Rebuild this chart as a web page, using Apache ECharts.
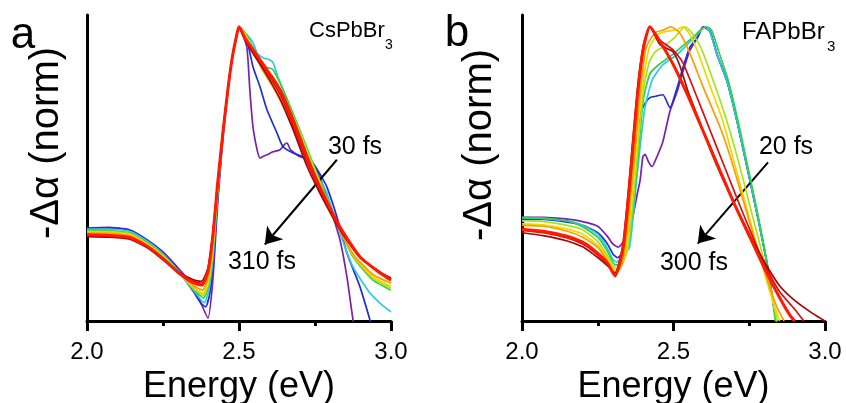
<!DOCTYPE html>
<html>
<head>
<meta charset="utf-8">
<script src="https://cdn.jsdelivr.net/npm/echarts@6/dist/echarts.min.js"></script>
<style>
  html, body { margin: 0; padding: 0; background: #fff; }
  #chart { width: 846px; height: 403px; }
</style>
</head>
<body>
<div id="chart"></div>
<script>
// x ticks (eV)
const X_TICKS = [2.0, 2.5, 3.0];

// series colours, early -> late delay
const TRACE_COLORS = ["#7a1fb0", "#1f2fd0", "#2ec8e6", "#2fd04a", "#a8e31a", "#f2d600", "#ff9a00", "#d81010", "#a00808", "#ff1a00"];

// panel a: CsPbBr3, [energy eV, -dalpha norm]
const csViolet = [[2.0,0.316],[2.07,0.318],[2.14,0.31],[2.2,0.275],[2.25,0.235],[2.3,0.18],[2.35,0.12],[2.375,0.06],[2.398,0.01],[2.414,0.14],[2.43,0.40],[2.447,0.62],[2.465,0.80],[2.477,0.89],[2.49,0.96],[2.5,1.0],[2.51,0.98],[2.526,0.93],[2.536,0.78],[2.546,0.66],[2.56,0.58],[2.569,0.554],[2.58,0.56],[2.592,0.565],[2.612,0.575],[2.635,0.582],[2.65,0.6],[2.658,0.605],[2.668,0.585],[2.678,0.575],[2.701,0.558],[2.734,0.548],[2.766,0.49],[2.799,0.388],[2.832,0.276],[2.855,0.15],[2.875,0.003],[2.885,-0.06]];
const csBlue = [[2.0,0.316],[2.07,0.316],[2.14,0.308],[2.2,0.272],[2.25,0.232],[2.3,0.172],[2.35,0.10],[2.375,0.06],[2.39,0.048],[2.405,0.10],[2.414,0.19],[2.43,0.42],[2.447,0.63],[2.465,0.80],[2.477,0.89],[2.49,0.96],[2.5,1.0],[2.51,0.99],[2.526,0.956],[2.546,0.864],[2.569,0.796],[2.592,0.718],[2.625,0.639],[2.645,0.592],[2.678,0.571],[2.711,0.558],[2.743,0.537],[2.766,0.50],[2.789,0.456],[2.822,0.354],[2.855,0.231],[2.898,0.116],[2.931,0.003],[2.945,-0.05]];
const csCyan = [[2.0,0.312],[2.07,0.312],[2.14,0.305],[2.2,0.27],[2.25,0.228],[2.3,0.17],[2.35,0.105],[2.386,0.062],[2.4,0.10],[2.414,0.21],[2.43,0.43],[2.447,0.635],[2.465,0.80],[2.477,0.89],[2.49,0.96],[2.5,1.0],[2.52,0.98],[2.546,0.946],[2.56,0.91],[2.579,0.895],[2.6,0.888],[2.612,0.878],[2.628,0.83],[2.658,0.752],[2.701,0.616],[2.743,0.524],[2.766,0.48],[2.789,0.435],[2.832,0.299],[2.875,0.184],[2.931,0.095],[2.97,0.055],[3.0,0.031]];
const csGreen = [[2.0,0.308],[2.07,0.307],[2.14,0.3],[2.2,0.265],[2.25,0.225],[2.3,0.168],[2.35,0.11],[2.384,0.078],[2.4,0.12],[2.414,0.23],[2.43,0.44],[2.447,0.64],[2.465,0.80],[2.477,0.89],[2.49,0.96],[2.5,1.0],[2.52,0.98],[2.546,0.93],[2.579,0.864],[2.6,0.86],[2.612,0.854],[2.645,0.786],[2.691,0.673],[2.743,0.537],[2.776,0.45],[2.809,0.367],[2.875,0.218],[2.941,0.139],[3.0,0.105]];
const csYellowGreen = [[2.0,0.305],[2.07,0.304],[2.14,0.297],[2.2,0.262],[2.25,0.222],[2.3,0.167],[2.35,0.112],[2.383,0.088],[2.4,0.13],[2.414,0.24],[2.43,0.45],[2.447,0.64],[2.465,0.80],[2.477,0.89],[2.49,0.96],[2.5,1.0],[2.52,0.975],[2.546,0.925],[2.579,0.86],[2.612,0.83],[2.645,0.77],[2.691,0.665],[2.743,0.53],[2.809,0.365],[2.875,0.222],[2.941,0.145],[3.0,0.112]];
const csYellow = [[2.0,0.302],[2.07,0.301],[2.14,0.294],[2.2,0.26],[2.25,0.22],[2.3,0.166],[2.35,0.115],[2.382,0.095],[2.4,0.14],[2.414,0.25],[2.43,0.46],[2.447,0.64],[2.465,0.80],[2.477,0.89],[2.49,0.96],[2.5,1.0],[2.52,0.975],[2.546,0.92],[2.579,0.855],[2.612,0.81],[2.645,0.75],[2.691,0.645],[2.743,0.52],[2.809,0.36],[2.875,0.225],[2.941,0.15],[3.0,0.118]];
const csOrange = [[2.0,0.299],[2.07,0.298],[2.14,0.29],[2.2,0.257],[2.25,0.217],[2.3,0.165],[2.35,0.12],[2.38,0.105],[2.4,0.155],[2.414,0.27],[2.43,0.47],[2.447,0.64],[2.465,0.80],[2.477,0.89],[2.49,0.96],[2.5,1.0],[2.52,0.97],[2.546,0.92],[2.579,0.85],[2.612,0.795],[2.645,0.73],[2.691,0.625],[2.743,0.505],[2.809,0.355],[2.875,0.228],[2.941,0.158],[3.0,0.128]];
const csCrimson = [[2.0,0.29],[2.07,0.288],[2.14,0.281],[2.2,0.25],[2.25,0.21],[2.3,0.166],[2.35,0.135],[2.377,0.128],[2.398,0.175],[2.414,0.295],[2.43,0.47],[2.447,0.64],[2.465,0.80],[2.477,0.89],[2.49,0.96],[2.5,1.0],[2.52,0.96],[2.546,0.915],[2.592,0.845],[2.635,0.77],[2.678,0.665],[2.724,0.54],[2.766,0.445],[2.832,0.315],[2.898,0.217],[2.964,0.165],[3.0,0.142]];
const csDarkRed = [[2.0,0.287],[2.07,0.285],[2.14,0.278],[2.2,0.248],[2.25,0.208],[2.3,0.167],[2.35,0.14],[2.376,0.135],[2.398,0.18],[2.414,0.30],[2.43,0.47],[2.447,0.64],[2.465,0.80],[2.477,0.89],[2.49,0.96],[2.5,1.0],[2.52,0.955],[2.546,0.91],[2.592,0.835],[2.635,0.755],[2.678,0.65],[2.724,0.525],[2.766,0.435],[2.832,0.31],[2.898,0.215],[2.964,0.167],[3.0,0.146]];
const csRed = [[2.0,0.293],[2.07,0.291],[2.14,0.284],[2.2,0.252],[2.25,0.212],[2.3,0.165],[2.35,0.13],[2.378,0.122],[2.398,0.17],[2.414,0.29],[2.43,0.47],[2.447,0.64],[2.465,0.80],[2.477,0.89],[2.49,0.96],[2.5,1.0],[2.52,0.96],[2.546,0.922],[2.592,0.854],[2.635,0.786],[2.678,0.684],[2.724,0.558],[2.766,0.456],[2.832,0.32],[2.898,0.218],[2.964,0.163],[3.0,0.139]];

// panel b: FAPbBr3
const faViolet = [[2.0,0.352],[2.07,0.352],[2.15,0.346],[2.2,0.338],[2.25,0.322],[2.28,0.29],[2.3,0.262],[2.317,0.251],[2.335,0.27],[2.35,0.302],[2.366,0.356],[2.38,0.43],[2.39,0.48],[2.399,0.559],[2.406,0.566],[2.418,0.54],[2.429,0.525],[2.446,0.56],[2.465,0.61],[2.488,0.712],[2.512,0.78],[2.531,0.847],[2.554,0.92],[2.578,0.96],[2.597,1.0],[2.62,0.985],[2.644,0.905],[2.677,0.814],[2.71,0.678],[2.743,0.522],[2.776,0.363],[2.809,0.193],[2.835,0.024],[2.845,-0.03]];
const faBlue = [[2.0,0.345],[2.07,0.345],[2.15,0.336],[2.2,0.325],[2.25,0.30],[2.28,0.265],[2.3,0.228],[2.315,0.215],[2.33,0.23],[2.35,0.35],[2.37,0.55],[2.39,0.70],[2.40,0.729],[2.422,0.759],[2.446,0.765],[2.465,0.769],[2.488,0.725],[2.512,0.793],[2.531,0.861],[2.554,0.93],[2.578,0.963],[2.6,1.0],[2.62,0.985],[2.644,0.905],[2.677,0.814],[2.71,0.678],[2.743,0.522],[2.776,0.363],[2.809,0.193],[2.835,0.024],[2.845,-0.03]];
const faCyan = [[2.0,0.35],[2.07,0.348],[2.15,0.34],[2.2,0.325],[2.25,0.295],[2.28,0.25],[2.3,0.21],[2.312,0.2],[2.33,0.22],[2.355,0.25],[2.38,0.5],[2.405,0.72],[2.43,0.82],[2.465,0.871],[2.512,0.905],[2.545,0.939],[2.578,0.973],[2.604,1.0],[2.62,0.983],[2.644,0.905],[2.677,0.814],[2.71,0.678],[2.743,0.522],[2.776,0.363],[2.809,0.193],[2.835,0.024],[2.845,-0.03]];
const faGreen = [[2.0,0.352],[2.07,0.35],[2.15,0.34],[2.2,0.32],[2.25,0.285],[2.28,0.24],[2.3,0.2],[2.31,0.19],[2.33,0.2],[2.35,0.25],[2.378,0.5],[2.40,0.75],[2.422,0.84],[2.45,0.87],[2.49,0.90],[2.53,0.935],[2.565,0.965],[2.59,0.99],[2.607,1.0],[2.625,0.99],[2.648,0.92],[2.68,0.82],[2.713,0.68],[2.746,0.52],[2.779,0.36],[2.81,0.19],[2.83,0.05],[2.836,0.0]];
const faYellowGreen = [[2.0,0.34],[2.07,0.338],[2.15,0.325],[2.2,0.31],[2.25,0.27],[2.28,0.225],[2.3,0.19],[2.31,0.18],[2.33,0.19],[2.35,0.25],[2.375,0.5],[2.40,0.78],[2.42,0.88],[2.44,0.915],[2.47,0.935],[2.505,0.965],[2.538,1.0],[2.56,0.98],[2.59,0.93],[2.63,0.82],[2.673,0.69],[2.715,0.54],[2.755,0.38],[2.795,0.22],[2.825,0.08],[2.842,0.0]];
const faYellow = [[2.0,0.33],[2.07,0.327],[2.15,0.312],[2.2,0.295],[2.25,0.258],[2.28,0.215],[2.3,0.18],[2.31,0.172],[2.328,0.19],[2.345,0.25],[2.37,0.5],[2.395,0.78],[2.42,0.93],[2.45,0.975],[2.48,0.985],[2.51,0.99],[2.53,1.0],[2.55,0.98],[2.578,0.92],[2.62,0.80],[2.663,0.68],[2.70,0.54],[2.74,0.39],[2.78,0.24],[2.815,0.11],[2.85,0.0]];
const faOrange = [[2.0,0.325],[2.07,0.322],[2.15,0.305],[2.2,0.285],[2.25,0.25],[2.28,0.208],[2.3,0.172],[2.31,0.165],[2.325,0.18],[2.34,0.25],[2.365,0.5],[2.39,0.78],[2.41,0.93],[2.44,0.98],[2.47,0.99],[2.49,1.0],[2.52,0.98],[2.55,0.92],[2.6,0.79],[2.653,0.66],[2.69,0.55],[2.73,0.41],[2.77,0.27],[2.81,0.14],[2.84,0.05],[2.865,0.0]];
const faCrimson = [[2.0,0.308],[2.07,0.3],[2.149,0.282],[2.2,0.262],[2.234,0.238],[2.28,0.195],[2.307,0.158],[2.333,0.25],[2.356,0.48],[2.38,0.76],[2.40,0.925],[2.422,1.0],[2.455,0.955],[2.5,0.92],[2.53,0.88],[2.57,0.78],[2.62,0.65],[2.67,0.52],[2.72,0.39],[2.76,0.29],[2.8,0.195],[2.85,0.10],[2.9,0.04],[2.93,0.0]];
const faDarkRed = [[2.0,0.30],[2.07,0.29],[2.149,0.272],[2.2,0.252],[2.234,0.228],[2.28,0.19],[2.307,0.163],[2.333,0.26],[2.356,0.50],[2.38,0.78],[2.40,0.935],[2.422,1.0],[2.455,0.94],[2.498,0.915],[2.52,0.87],[2.548,0.78],[2.578,0.70],[2.63,0.56],[2.686,0.43],[2.743,0.31],[2.795,0.21],[2.85,0.12],[2.9,0.07],[2.96,0.025],[3.0,0.0]];
const faRed = [[2.0,0.312],[2.07,0.305],[2.149,0.288],[2.2,0.268],[2.234,0.244],[2.28,0.2],[2.307,0.153],[2.333,0.244],[2.356,0.471],[2.38,0.753],[2.40,0.922],[2.422,1.0],[2.455,0.95],[2.5,0.87],[2.55,0.76],[2.6,0.64],[2.65,0.52],[2.7,0.40],[2.75,0.29],[2.8,0.18],[2.85,0.08],[2.884,0.02],[2.9,0.0]];

const CS_TRACES = [csViolet, csBlue, csCyan, csGreen, csYellowGreen, csYellow, csOrange, csCrimson, csDarkRed, csRed];
const FA_TRACES = [faViolet, faBlue, faCyan, faGreen, faYellowGreen, faYellow, faOrange, faCrimson, faDarkRed, faRed];

// delay arrows, [start, end] in data coords
const CS_ARROW = [[2.822, 0.548], [2.585, 0.26]];
const FA_ARROW = [[2.812, 0.539], [2.58, 0.263]];

const FONT = "'Liberation Sans', Arial, sans-serif";

function makeXAxis(gridIndex) {
  return {
    type: "value",
    gridIndex,
    min: 2,
    max: 3,
    interval: 0.5,
    axisLine: { show: true, onZero: false, lineStyle: { color: "#000", width: 3 } },
    axisTick: { show: true, inside: false, length: 10, lineStyle: { color: "#000", width: 3 } },
    minorTick: { show: true, splitNumber: 2, length: 5, lineStyle: { color: "#000", width: 3 } },
    splitLine: { show: false },
    axisLabel: {
      color: "#000",
      fontSize: 24,
      fontFamily: FONT,
      margin: 19,
      formatter: (v) => (X_TICKS.includes(v) ? v.toFixed(1) : "")
    },
    name: "Energy (eV)",
    nameLocation: "middle",
    nameGap: 43,
    nameTextStyle: { color: "#000", fontSize: 36, fontFamily: FONT }
  };
}

function makeYAxis(gridIndex) {
  return {
    type: "value",
    gridIndex,
    min: 0,
    max: 1.04,
    axisLine: { show: true, onZero: false, lineStyle: { color: "#000", width: 3 } },
    axisTick: { show: false },
    axisLabel: { show: false },
    splitLine: { show: false }
  };
}

function makeSeries(traces, axisIndex, arrow) {
  return traces.map((data, i) => {
    const isMain = i === traces.length - 1;
    const s = {
      type: "line",
      xAxisIndex: axisIndex,
      yAxisIndex: axisIndex,
      data,
      showSymbol: false,
      smooth: 0.2,
      clip: true,
      lineStyle: { color: TRACE_COLORS[i], width: isMain ? 3 : 1.7 },
      z: 2 + i
    };
    if (isMain) {
      s.markLine = {
        silent: true,
        symbol: ["none", "arrow"],
        symbolSize: 16,
        lineStyle: { color: "#000", width: 2, type: "solid" },
        itemStyle: { color: "#000" },
        label: { show: false },
        emphasis: { disabled: true },
        data: [[{ coord: arrow[0] }, { coord: arrow[1] }]]
      };
    }
    return s;
  });
}

function label(text, x, y, size, extra = {}) {
  return {
    type: "text",
    x,
    y,
    z: 100,
    ...extra,
    style: {
      text,
      fill: "#000",
      font: `${size}px ${FONT}`,
      textAlign: extra.align || "center",
      textVerticalAlign: "middle"
    }
  };
}

const chart = echarts.init(document.getElementById("chart"), null, { renderer: "canvas" });

chart.setOption({
  backgroundColor: "#fff",
  animation: false,
  textStyle: { fontFamily: FONT },
  grid: [
    { left: 87, top: 15, width: 304, height: 306, outerBoundsMode: "none" },
    { left: 522, top: 15, width: 303, height: 306, outerBoundsMode: "none" }
  ],
  xAxis: [makeXAxis(0), makeXAxis(1)],
  yAxis: [makeYAxis(0), makeYAxis(1)],
  series: [...makeSeries(CS_TRACES, 0, CS_ARROW), ...makeSeries(FA_TRACES, 1, FA_ARROW)],
  graphic: [
    label("a", 23, 36, 44),
    label("b", 457, 34, 44),
    label("-\u0394\u03b1 (norm)", 47, 143, 40, { rotation: Math.PI / 2 }),
    label("-\u0394\u03b1 (norm)", 480, 145, 40, { rotation: Math.PI / 2 }),
    label("CsPbBr", 309, 31, 22, { align: "left" }),
    label("3", 385, 45, 14, { align: "left" }),
    label("FAPbBr", 742, 32, 24, { align: "left" }),
    label("3", 827, 47, 15, { align: "left" }),
    label("30 fs", 355, 147, 25),
    label("310 fs", 262, 262, 25),
    label("20 fs", 786, 147, 25),
    label("300 fs", 694, 263, 25)
  ]
});
</script>
</body>
</html>
